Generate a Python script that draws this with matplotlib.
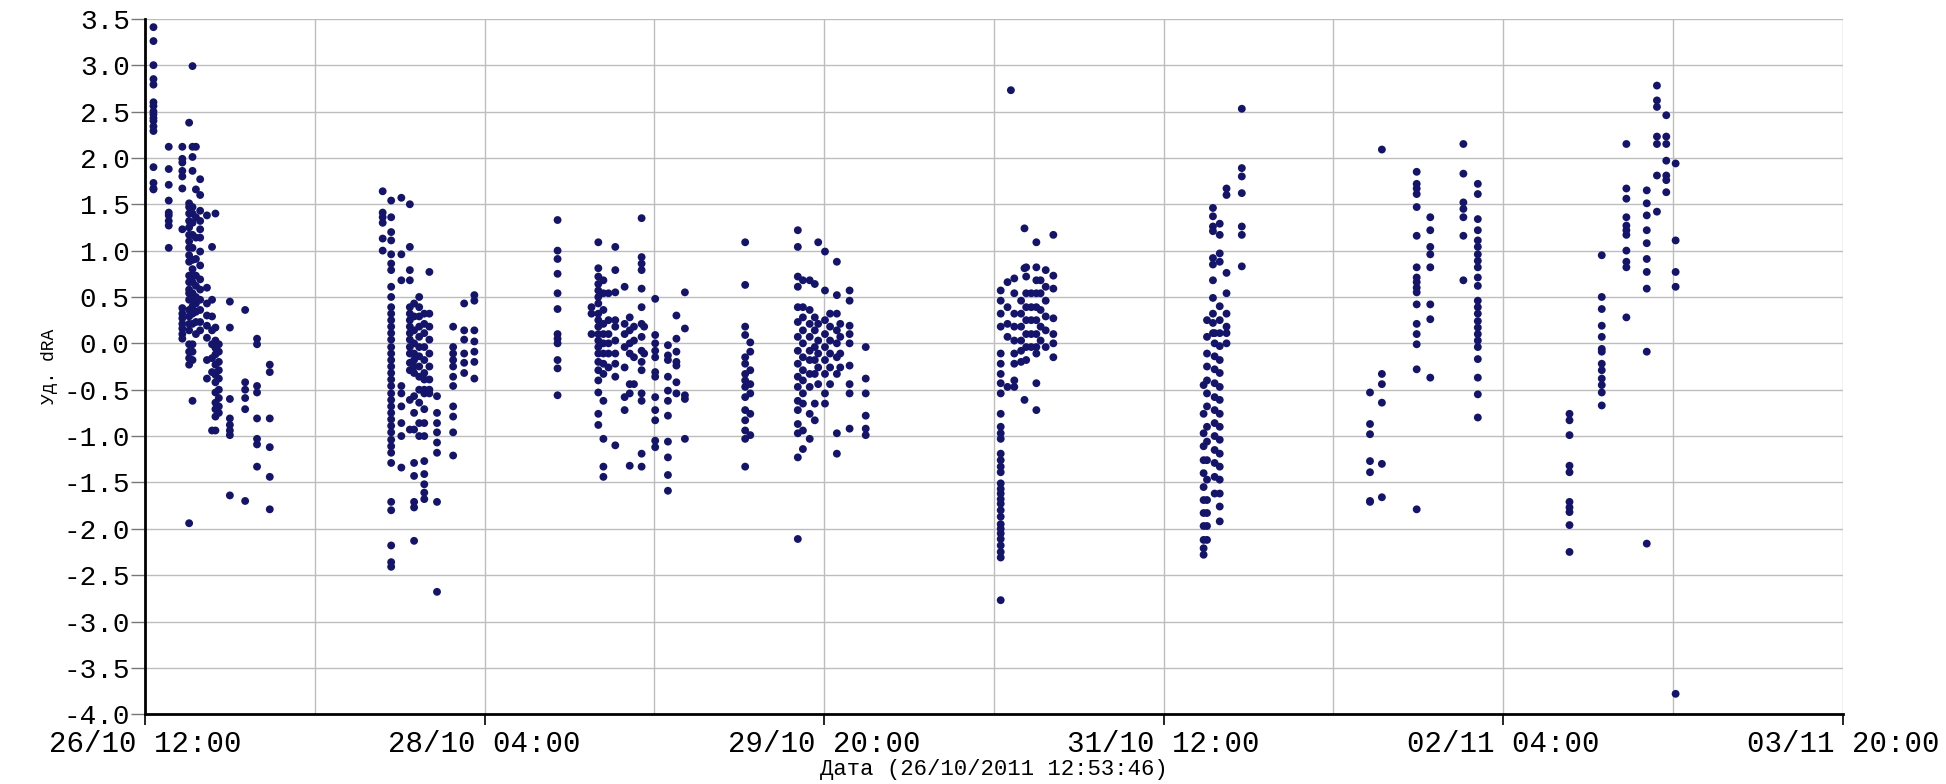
"""
Scatter of dRA residuals across observation sessions, 26/10 - 03/11 2011.
"""

from datetime import datetime, timedelta

import matplotlib

matplotlib.use("Agg")
import matplotlib.pyplot as plt
import matplotlib.dates as mdates
from matplotlib.ticker import FixedLocator, FormatStrFormatter

# Hours after 26/10/2011 12:00 for each column of points, with the values in it
s1_hours = [1.0, 2.8, 4.4, 5.2, 5.6, 6.0, 6.5, 7.3, 7.9, 8.3, 8.7, 10.0, 11.8, 13.2, 14.7]
s1_values = [
    [3.41, 3.26, 3.0, 2.85, 2.79, 2.6, 2.56, 2.5, 2.47, 2.43, 2.4, 2.34, 2.29, 1.9, 1.73, 1.67, 1.66],
    [2.12, 1.88, 1.71, 1.54, 1.41, 1.38, 1.32, 1.27, 1.03],
    [2.12, 1.99, 1.95, 1.86, 1.8, 1.67, 1.23, 0.38, 0.32, 0.27, 0.21, 0.16, 0.1, 0.05],
    [2.38, 1.51, 1.47, 1.4, 1.32, 1.25, 1.17, 1.1, 1.03, 0.95, 0.88, 0.73, 0.66, 0.58, 0.54,
     0.47, 0.36, 0.29, 0.21, 0.14, -0.01, -0.09, -0.16, -0.23, -1.94],
    [2.99, 2.12, 2.01, 1.86, 1.47, 1.4, 1.3, 1.17, 1.03, 0.9, 0.8, 0.73, 0.66, 0.54, 0.47,
     0.4, 0.32, 0.21, -0.01, -0.09, -0.18, -0.62],
    [2.12, 1.66, 1.36, 1.14, 0.91, 0.73, 0.62, 0.5, 0.43, 0.34, 0.23, 0.1],
    [1.77, 1.6, 1.43, 1.32, 1.23, 1.14, 0.99, 0.84, 0.69, 0.58, 0.47, 0.36, 0.23, 0.14],
    [1.38, 0.6, 0.43, 0.3, 0.19, 0.06, -0.18, -0.38],
    [1.04, 0.47, 0.29, 0.14, -0.01, -0.16, -0.31, -0.94],
    [1.4, 0.17, 0.03, -0.05, -0.12, -0.23, -0.34, -0.42, -0.53, -0.64, -0.71, -0.79, -0.94],
    [-0.01, -0.09, -0.2, -0.29, -0.38, -0.5, -0.59, -0.68, -0.75],
    [0.45, 0.17, -0.6, -0.81, -0.88, -0.94, -0.99, -1.64],
    [0.36, -0.42, -0.5, -0.59, -0.71, -1.7],
    [0.05, -0.01, -0.46, -0.53, -0.81, -1.03, -1.09, -1.33],
    [-0.23, -0.31, -0.81, -1.12, -1.44, -1.79],
]

s2_hours = [28.0, 29.0, 30.2, 31.2, 31.7, 32.3, 32.9, 33.5, 34.4, 36.3, 37.6, 38.8]
s2_values = [
    [1.64, 1.41, 1.36, 1.3, 1.13, 1.0],
    [1.54, 1.36, 1.2, 1.11, 0.96, 0.86, 0.79, 0.61, 0.5, 0.39, 0.32, 0.25, 0.18, 0.11, 0.04,
     -0.04, -0.11, -0.18, -0.25, -0.32, -0.39, -0.46, -0.54, -0.61, -0.68, -0.75, -0.82,
     -0.89, -0.96, -1.04, -1.11, -1.18, -1.29, -1.71, -1.8, -2.18, -2.36, -2.41],
    [1.57, 0.96, 0.68, -0.46, -0.54, -0.68, -0.86, -1.0, -1.34],
    [1.5, 1.04, 0.79, 0.68, 0.39, 0.32, 0.25, 0.18, 0.11, 0.04, -0.04, -0.11, -0.21, -0.29,
     -0.61, -0.93],
    [0.43, 0.29, 0.14, 0.0, -0.11, -0.18, -0.25, -0.32, -0.57, -0.75, -0.93, -1.29, -1.43,
     -1.71, -1.77, -2.13],
    [0.5, 0.39, 0.29, 0.18, 0.07, -0.04, -0.14, -0.25, -0.36, -0.5, -0.64, -0.86, -1.0],
    [0.32, 0.21, 0.11, -0.04, -0.18, -0.32, -0.39, -0.5, -0.54, -0.71, -0.86, -1.0, -1.27,
     -1.41, -1.52, -1.61, -1.68],
    [0.77, 0.32, 0.18, 0.04, -0.11, -0.25, -0.39, -0.5, -0.54],
    [-0.57, -0.75, -0.86, -0.96, -1.07, -1.18, -1.71, -2.68],
    [0.18, -0.04, -0.11, -0.18, -0.25, -0.36, -0.46, -0.68, -0.79, -0.96, -1.21],
    [0.43, 0.14, 0.04, -0.11, -0.21, -0.32],
    [0.52, 0.46, 0.14, 0.02, -0.09, -0.2, -0.38],
]

s3_hours = [48.6, 52.6, 53.4, 54.0, 54.6, 55.4, 56.5, 57.1, 57.6, 58.5, 58.8, 60.1, 61.6, 62.6, 63.6]
s3_values = [
    [1.33, 1.0, 0.91, 0.75, 0.54, 0.37, 0.1, 0.05, 0.0, -0.18, -0.27, -0.56],
    [0.39, 0.32, 0.1],
    [1.09, 0.81, 0.72, 0.64, 0.57, 0.5, 0.43, 0.32, 0.25, 0.18, 0.1, 0.03, -0.04, -0.11,
     -0.2, -0.29, -0.4, -0.53, -0.76, -0.88],
    [0.68, 0.54, 0.36, 0.21, 0.1, 0.0, -0.11, -0.22, -0.33, -0.62, -1.03, -1.33, -1.44],
    [0.54, 0.25, 0.1, 0.0, -0.11, -0.26],
    [1.04, 0.79, 0.55, 0.25, 0.18, 0.03, -0.11, -0.22, -0.36, -1.1],
    [0.61, 0.21, 0.1, -0.04, -0.26, -0.58, -0.72],
    [0.28, 0.14, 0.0, -0.11, -0.44, -0.54, -1.32],
    [0.18, 0.03, -0.15, -0.44],
    [1.35, 0.93, 0.86, 0.79, 0.59, 0.39, 0.21, 0.07, -0.08, -0.2, -0.29, -0.54, -0.62,
     -1.19, -1.33],
    [0.18, -0.11],
    [0.48, 0.09, 0.0, -0.08, -0.15, -0.31, -0.36, -0.58, -0.72, -0.83, -1.05, -1.12],
    [-0.02, -0.13, -0.18, -0.36, -0.51, -0.62, -0.78, -1.06, -1.23, -1.42, -1.59],
    [0.3, 0.05, -0.09, -0.2, -0.24, -0.42, -0.54],
    [0.55, 0.16, -0.56, -0.6, -1.03],
]

s4_hours = [70.7, 71.3, 76.9, 77.5, 78.3, 78.9, 79.3, 80.1, 80.7, 81.5, 81.9, 83.0, 84.9]
s4_values = [
    [1.09, 0.63, 0.18, 0.09, -0.15, -0.22, -0.33, -0.4, -0.47, -0.58, -0.72, -0.83, -0.94,
     -1.03, -1.33],
    [0.01, -0.09, -0.29, -0.44, -0.54, -0.76, -0.99],
    [1.22, 1.04, 0.72, 0.61, 0.39, 0.23, 0.07, -0.08, -0.22, -0.36, -0.47, -0.62, -0.72,
     -0.87, -0.97, -1.23, -2.11],
    [0.68, 0.39, 0.28, 0.14, 0.0, -0.15, -0.29, -0.4, -0.54, -0.65, -0.94, -1.14],
    [0.68, 0.36, 0.21, 0.07, -0.08, -0.18, -0.33, -0.47, -0.76, -1.03],
    [0.64, 0.28, 0.14, -0.04, -0.18, -0.33, -0.65, -0.83],
    [1.09, 0.21, 0.03, -0.11, -0.26, -0.44],
    [0.99, 0.57, 0.25, 0.1, -0.04, -0.18, -0.33, -0.54, -0.65],
    [0.32, 0.18, 0.03, -0.11, -0.26, -0.44],
    [0.88, 0.52, 0.32, 0.14, 0.0, -0.15, -0.33, -0.97, -1.19],
    [0.21, 0.07, -0.11, -0.26],
    [0.57, 0.46, 0.19, 0.1, 0.0, -0.24, -0.44, -0.54, -0.92],
    [-0.04, -0.38, -0.54, -0.78, -0.92, -0.99],
]

s5_hours = [100.8, 101.6, 102.0, 102.4, 103.2, 103.6, 103.8, 104.4, 105.0, 105.5, 106.1, 107.0]
s5_values = [
    [0.57, 0.46, 0.32, 0.18, -0.11, -0.22, -0.33, -0.43, -0.54, -0.76, -0.9, -0.97, -1.03,
     -1.19, -1.26, -1.33, -1.39, -1.51, -1.57, -1.62, -1.68, -1.73, -1.8, -1.87, -1.95,
     -2.0, -2.05, -2.11, -2.18, -2.25, -2.31, -2.77],
    [0.66, 0.39, 0.21, 0.07, -0.47],
    [2.73],
    [0.7, 0.54, 0.32, 0.18, 0.03, -0.11, -0.22, -0.4, -0.47],
    [0.46, 0.32, 0.18, 0.03, -0.08, -0.2],
    [1.24, 0.81, -0.61],
    [0.82, 0.72, 0.54, 0.39, 0.25, 0.1, -0.04, -0.18],
    [0.54, 0.39, 0.25, 0.1, -0.04],
    [1.09, 0.82, 0.68, 0.54, 0.39, 0.25, 0.1, -0.04, -0.11, -0.43, -0.72],
    [0.68, 0.54, 0.36, 0.18, 0.03],
    [0.79, 0.61, 0.46, 0.29, 0.14, -0.04],
    [1.17, 0.73, 0.59, 0.27, 0.1, 0.0, -0.15],
]

s6_hours = [124.7, 125.1, 125.8, 126.0, 126.6, 127.4, 129.2]
s6_values = [
    [-0.45, -0.76, -0.97, -1.11, -1.26, -1.4, -1.55, -1.69, -1.83, -1.97, -2.12, -2.21, -2.28],
    [0.25, 0.07, -0.11, -0.25, -0.4, -0.54, -0.68, -0.9, -1.06, -1.26, -1.47, -1.69, -1.83,
     -1.97, -2.12],
    [1.46, 1.37, 1.26, 1.21, 0.92, 0.85, 0.68, 0.49, 0.32, 0.22, 0.11],
    [0.11, 0.0, -0.14, -0.28, -0.43, -0.58, -0.72, -0.86, -1.0, -1.15, -1.29, -1.44, -1.62],
    [1.29, 1.17, 0.97, 0.88, 0.4, 0.25, 0.11, -0.03, -0.18, -0.32, -0.47, -0.61, -0.76,
     -0.9, -1.04, -1.19, -1.33, -1.47, -1.62, -1.76, -1.92],
    [1.67, 1.6, 0.76, 0.54, 0.32, 0.18, 0.11, 0.0],
    [2.53, 1.89, 1.8, 1.62, 1.26, 1.17, 0.83],
]

s7_hours = [144.3, 145.7, 149.8, 151.4, 155.3, 157.0]
s7_values = [
    [-0.53, -0.87, -0.98, -1.27, -1.39, -1.7, -1.71],
    [2.09, -0.33, -0.44, -0.64, -1.3, -1.66],
    [1.85, 1.72, 1.67, 1.61, 1.47, 1.16, 0.82, 0.71, 0.66, 0.6, 0.55, 0.42, 0.21, 0.1,
     -0.01, -0.28, -1.79],
    [1.36, 1.22, 1.04, 0.96, 0.82, 0.42, 0.26, -0.37],
    [2.15, 1.83, 1.52, 1.45, 1.36, 1.16, 0.68],
    [1.72, 1.61, 1.34, 1.22, 1.11, 1.04, 0.96, 0.89, 0.82, 0.71, 0.62, 0.46, 0.39, 0.32,
     0.24, 0.17, 0.1, 0.03, -0.04, -0.17, -0.37, -0.55, -0.8],
]

s8_hours = [167.8, 171.6, 174.5, 176.9, 178.1, 179.2, 180.3]
s8_values = [
    [-0.76, -0.83, -0.99, -1.32, -1.39, -1.71, -1.77, -1.82, -1.96, -2.25],
    [0.95, 0.5, 0.37, 0.19, 0.07, -0.06, -0.09, -0.22, -0.29, -0.38, -0.45, -0.53, -0.67],
    [2.15, 1.67, 1.56, 1.36, 1.27, 1.22, 1.17, 1.0, 0.88, 0.82, 0.28],
    [1.65, 1.51, 1.38, 1.22, 1.08, 0.91, 0.77, 0.59, -0.09, -2.16],
    [2.78, 2.62, 2.55, 2.23, 2.15, 1.81, 1.42],
    [2.46, 2.23, 2.15, 1.97, 1.81, 1.76, 1.63],
    [1.94, 1.11, 0.77, 0.61, -3.78],
]

sessions = [
    (s1_hours, s1_values), (s2_hours, s2_values), (s3_hours, s3_values),
    (s4_hours, s4_values), (s5_hours, s5_values), (s6_hours, s6_values),
    (s7_hours, s7_values), (s8_hours, s8_values),
]

t0 = datetime(2011, 10, 26, 12, 0)
xs, ys = [], []
for hours, values in sessions:
    for h, col in zip(hours, values):
        for v in col:
            xs.append(t0 + timedelta(hours=h))
            ys.append(v)

plt.rcParams["axes.unicode_minus"] = False
mono = "Liberation Mono"

fig = plt.figure(figsize=(19.46, 7.84), dpi=100)
ax = fig.add_axes([0.0745, 0.089, 0.8725, 0.887])

ax.scatter(xs, ys, s=32, color="#14146a", edgecolors="none", zorder=3)

x_end = t0 + timedelta(hours=200)
ax.set_xlim(t0, x_end)
ax.set_ylim(-4.0, 3.5)

major = [mdates.date2num(t0 + timedelta(hours=40 * i)) for i in range(6)]
minor = [mdates.date2num(t0 + timedelta(hours=20 + 40 * i)) for i in range(5)]
ax.xaxis.set_major_locator(FixedLocator(major))
ax.xaxis.set_minor_locator(FixedLocator(minor))
ax.xaxis.set_major_formatter(mdates.DateFormatter("%d/%m %H:%M"))
ax.set_yticks([-4.0 + 0.5 * i for i in range(16)])
ax.yaxis.set_major_formatter(FormatStrFormatter("%.1f"))

ax.grid(True, which="both", color="#bdbdbd", linewidth=1.0, zorder=0)
ax.set_axisbelow(True)
for side in ("top", "right"):
    ax.spines[side].set_visible(False)
for side in ("left", "bottom"):
    ax.spines[side].set_linewidth(2.0)
    ax.spines[side].set_color("black")

ax.tick_params(axis="x", which="major", length=8, width=1.2, pad=3)
ax.tick_params(axis="x", which="minor", length=0)
ax.tick_params(axis="y", length=10, width=1.0, pad=1, color="#777777")
for lbl in ax.get_xticklabels():
    lbl.set_family(mono)
    lbl.set_fontsize(21)
for lbl in ax.get_yticklabels():
    lbl.set_family(mono)
    lbl.set_fontsize(20)

ax.set_xlabel("Дата (26/10/2011 12:53:46)", family=mono, fontsize=16, labelpad=1)
ax.set_ylabel("Уд. dRA", family=mono, fontsize=13, labelpad=4)

fig.savefig("out.png", dpi=100)
plt.close(fig)
